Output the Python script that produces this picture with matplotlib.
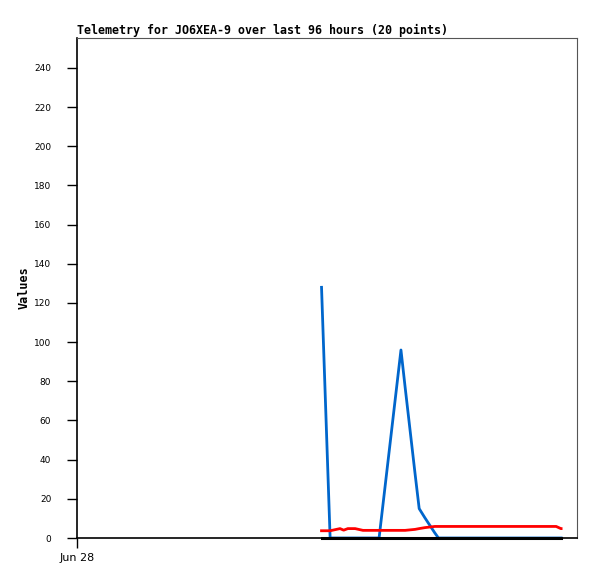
import matplotlib
matplotlib.use("Agg")
import matplotlib.pyplot as plt

# hours since Jun 28 00:00
hours = [46.95, 48.6, 50.5, 51.2, 52.0, 53.4, 54.9, 58.0, 62.2, 63.0,
         64.9, 65.7, 66.8, 68.7, 69.4, 77.5, 85.0, 92.0, 92.9, 92.95]
series_blue = [128, 0, 0, 0, 0, 0, 0, 0, 96, 77,
               33, 15, 10.3, 2.6, 0, 0, 0, 0, 0, 0]
series_red = [3.7, 3.7, 4.8, 4.0, 4.8, 4.8, 3.9, 3.9, 3.9, 3.9,
              4.4, 4.8, 5.3, 5.9, 5.9, 5.9, 5.9, 5.9, 4.8, 4.8]
series_black = [0] * 20
x_tick_labels = ["Jun 28"]
title = "Telemetry for JO6XEA-9 over last 96 hours (20 points)"

fig = plt.figure(figsize=(5.97, 5.79), dpi=100)
ax = fig.add_axes([77/597, 41/579, 500/597, 500/579])

ax.plot(hours, series_blue, color="#0066CC", lw=2, clip_on=False, zorder=3)
ax.plot(hours, series_red, color="#FF0000", lw=2, clip_on=False, zorder=4)
ax.plot(hours, series_black, color="#000000", lw=2.2, clip_on=False, zorder=5)

ax.set_xlim(0, 96)
ax.set_ylim(0, 255.3)
ax.set_yticks(range(0, 241, 20))
ax.set_xticks([0])
ax.set_xticklabels(x_tick_labels)
ax.tick_params(axis="y", direction="out", length=7, width=1, labelsize=6.5,
               colors="black", pad=11.5)
ax.tick_params(axis="x", direction="out", length=7, width=1, labelsize=8,
               colors="black", pad=4)
for lab in ax.get_xticklabels() + ax.get_yticklabels():
    lab.set_family("DejaVu Sans")

for side in ("top", "right"):
    ax.spines[side].set_color("#555555")
for side in ("left", "bottom"):
    ax.spines[side].set_color("black")
    ax.spines[side].set_linewidth(1.2)

ax.set_title(title, loc="left", family="DejaVu Sans Mono", fontweight="bold",
             fontsize=8.35, pad=3)
ax.set_ylabel("Values", family="DejaVu Sans Mono", fontweight="bold",
              fontsize=8.5)
ax.yaxis.set_label_coords(-0.093, 0.5)

fig.savefig("out.png", dpi=100)
